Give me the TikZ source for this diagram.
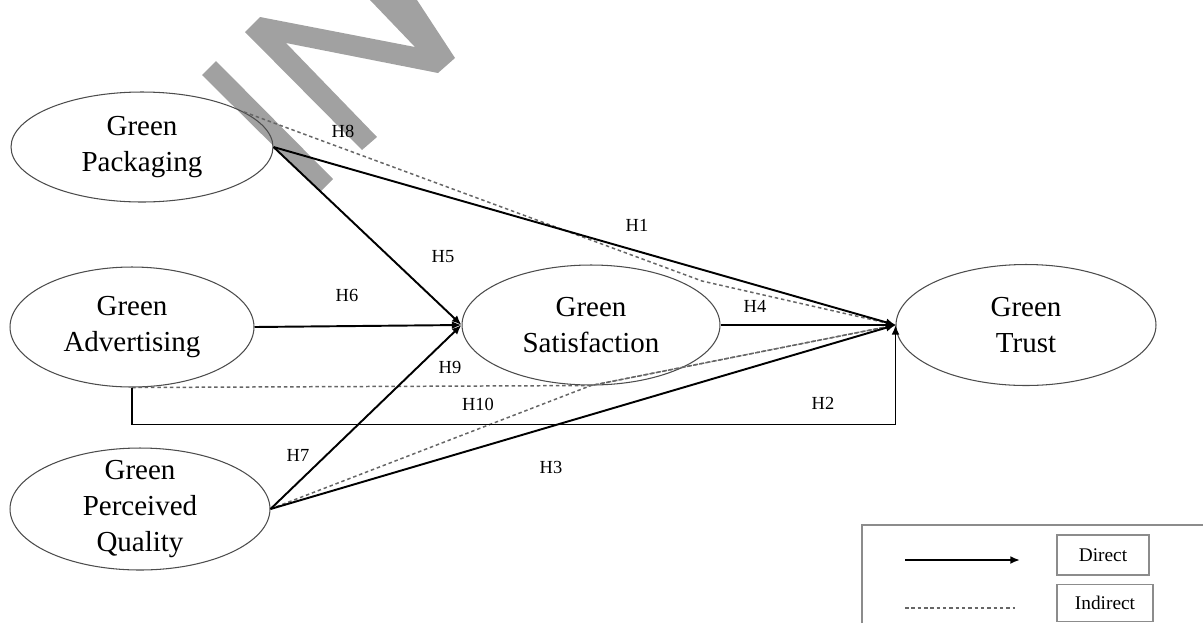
\documentclass[tikz,border=0pt]{standalone}
\usepackage{fontspec}
\setmainfont{Liberation Serif}
\usetikzlibrary{arrows.meta,shapes.geometric}
\tikzset{font=\fontsize{10.5}{12}\selectfont}
\tikzstyle{construct}=[ellipse,draw=black!70,line width=0.6pt,inner sep=0pt,align=center,font=\fontsize{16.5}{20.5}\selectfont]
\tikzstyle{direct}=[->,>={Latex[length=5.5pt,width=4.5pt]},line width=1.1pt]
\tikzstyle{indirect}=[dash pattern=on 2pt off 1.6pt,draw=black!60,line width=0.85pt]
\tikzstyle{hyp}=[inner sep=1pt]
\tikzstyle{keybox}=[draw=black!45,line width=0.6pt,inner sep=2pt,font=\fontsize{11}{13}\selectfont]

\begin{document}
\begin{tikzpicture}[x=0.02cm,y=-0.02cm]
\useasboundingbox (0,0) rectangle (1203,633);
\fill[black,fill opacity=0.37] (202,75) -- (216,61) -- (333,179) -- (320,192) -- cycle;
\fill[black,fill opacity=0.37] (245,32) -- (260,17) -- (415,47) -- (370,0) -- (417,0) -- (455,58)
  -- (438,73) -- (286,43) -- (377,137) -- (362,150) -- cycle;

\node[construct,minimum width=5.24cm,minimum height=2.2cm] (GP) at (142,147) {Green\\Packaging};
\node[construct,minimum width=4.88cm,minimum height=2.4cm] (GA) at (132,327) {Green\\Advertising};
\node[construct,minimum width=5.2cm,minimum height=2.44cm,inner ysep=-8pt] (GPQ) at (140,509) {Green\\Perceived\\Quality};
\node[construct,minimum width=5.16cm,minimum height=2.4cm] (GS) at (591,325) {Green\\Satisfaction};
\node[construct,minimum width=5.2cm,minimum height=2.42cm] (GT) at (1026,325) {Green\\Trust};

\coordinate (b8) at (702,281);
\draw[indirect] (GP.19) -- (b8) -- (GT.west);
\draw[indirect] (GA.south) -- (GS.south) -- (GT.west);
\draw[indirect] (GPQ.east) -- (GS.south) -- (GT.west);

\draw[direct] (GP.east) -- (GS.west);
\draw[direct] (GP.east) -- (GT.west);
\draw[direct] (GA.east) -- (GS.west);
\draw[direct] (GPQ.east) -- (GS.west);
\draw[direct] (GS.east) -- (GT.west);
\draw[direct] (GPQ.east) -- (GT.west);
\draw[direct] (GA.south) -- ++(0,37) -| (GT.west);

\node[hyp] (h1) at (637,225) {H1};
\node[hyp] (h2) at (823,403) {H2};
\node[hyp] (h3) at (551,467) {H3};
\node[hyp] (h4) at (755,306) {H4};
\node[hyp] (h5) at (443,257) {H5};
\node[hyp] (h6) at (347,295) {H6};
\node[hyp] (h7) at (298,455) {H7};
\node[hyp] (h8) at (343,131) {H8};
\node[hyp] (h9) at (450,367) {H9};
\node[hyp] (h10) at (478,404) {H10};

\draw[black!45,line width=0.6pt] (862,623) -- (862,525) -- (1203,525);
\coordinate (ds) at (905,560);
\coordinate (de) at (1020,560);
\draw[direct] (ds) -- (de);
\coordinate (is) at (905,608);
\coordinate (ie) at (1015,608);
\draw[indirect,line width=0.7pt] (is) -- (ie);
\node[keybox,minimum width=1.84cm,minimum height=0.8cm] (kd) at (1103,555) {Direct};
\node[keybox,minimum width=1.92cm,minimum height=0.74cm] (ki) at (1105,603) {Indirect};
\end{tikzpicture}
\end{document}
